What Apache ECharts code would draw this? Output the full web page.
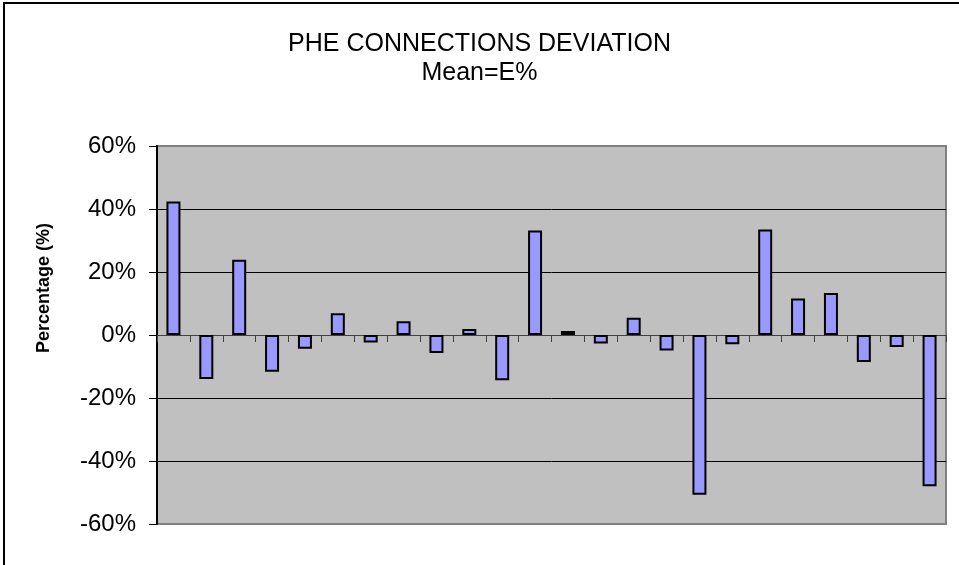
<!DOCTYPE html>
<html>
<head>
<meta charset="utf-8">
<script src="https://cdn.jsdelivr.net/npm/echarts@6/dist/echarts.min.js"></script>
<style>
html,body{margin:0;padding:0;background:#fff;}
#chart{width:959px;height:565px;}
</style>
</head>
<body>
<div id="chart"></div>
<script>
var titleText = 'PHE CONNECTIONS DEVIATION';
var subtitleText = 'Mean=E%';
var yAxisTitle = 'Percentage (%)';
var categories = ['1','2','3','4','5','6','7','8','9','10','11','12','13','14','15','16','17','18','19','20','21','22','23','24'];
var deviations = [42.4, -14.0, 23.9, -11.7, -4.4, 6.9, -2.4, 4.4, -5.7, 1.9, -14.4, 33.2, 1.3, -2.7, 5.5, -4.9, -50.7, -2.9, 33.5, 11.6, 13.3, -8.6, -3.8, -48.0];
var yMin = -60, yMax = 60, yStep = 20;

var FONT = '"Liberation Sans", Arial, sans-serif';
var chart = echarts.init(document.getElementById('chart'));
chart.setOption({
  backgroundColor: '#ffffff',
  animation: false,
  title: [
    { text: titleText, left: 'center', top: 27, textStyle: { fontFamily: FONT, fontSize: 25, fontWeight: 'normal', color: '#000' } },
    { text: subtitleText, left: 'center', top: 56, textStyle: { fontFamily: FONT, fontSize: 25, fontWeight: 'normal', color: '#000' } }
  ],
  graphic: [
    { type: 'rect', shape: { x: 4, y: 3, width: 1200, height: 1200 }, style: { fill: 'none', stroke: '#000', lineWidth: 2 }, silent: true },
    { type: 'text', x: 44, y: 288, rotation: Math.PI / 2, style: { text: yAxisTitle, fontFamily: FONT, fontSize: 18, fontWeight: 'bold', fill: '#000', align: 'center', verticalAlign: 'middle' } }
  ],
  grid: { left: 157, top: 146, right: 13, bottom: 41, show: true, backgroundColor: '#c0c0c0', borderColor: '#808080', borderWidth: 2 },
  xAxis: {
    type: 'category',
    data: categories,
    axisLine: { onZero: true, lineStyle: { color: '#404040', width: 1 } },
    axisTick: { show: true, inside: false, length: 7, alignWithLabel: false, lineStyle: { color: '#404040', width: 1 } },
    axisLabel: { show: false },
    splitLine: { show: false }
  },
  yAxis: {
    type: 'value',
    min: yMin, max: yMax, interval: yStep,
    axisLine: { show: true, onZero: false, lineStyle: { color: '#000', width: 2 } },
    axisTick: { show: true, inside: false, length: 8, lineStyle: { color: '#000', width: 1 } },
    axisLabel: { formatter: function (v) { return v + '%'; }, fontFamily: FONT, fontSize: 24, color: '#000', margin: 21 },
    splitLine: { show: true, lineStyle: { color: ['#808080', '#000', '#000', '#000', '#000', '#000', '#808080'], width: 1 } }
  },
  series: [{
    type: 'bar',
    data: deviations,
    barWidth: 14,
    itemStyle: { color: '#9999ff', borderColor: '#000', borderWidth: 2 }
  }]
});
</script>
</body>
</html>
